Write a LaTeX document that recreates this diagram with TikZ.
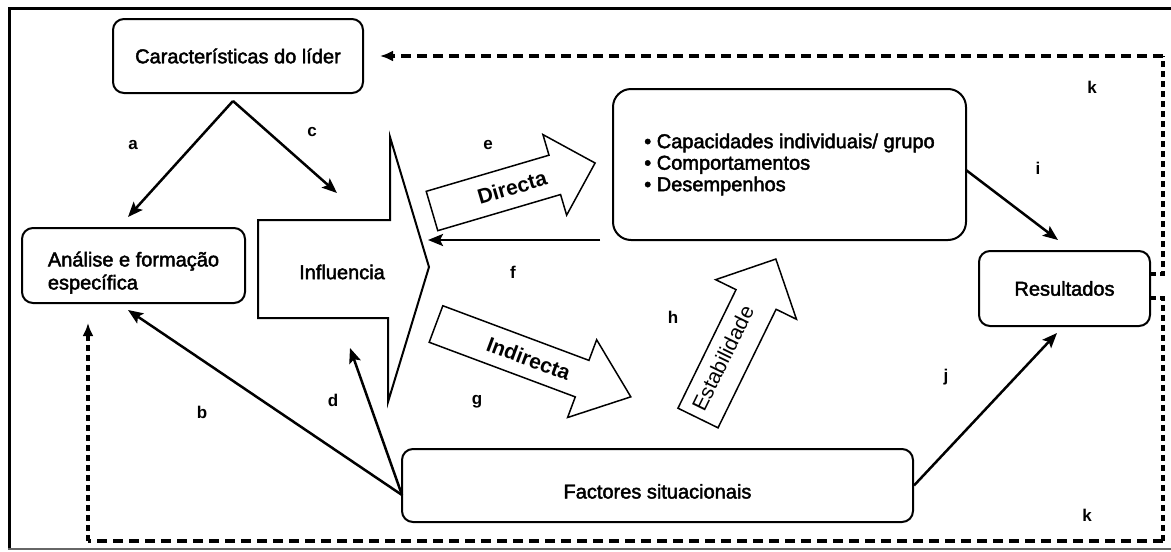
\documentclass[tikz,border=0pt]{standalone}
\usepackage{fontspec}
\setmainfont{Liberation Sans}
\newfontfamily\heavy[FakeBold=2.2]{Liberation Sans}
\usetikzlibrary{arrows.meta}
\begin{document}
\begin{tikzpicture}[x=1pt,y=-1pt,
  box/.style={draw,line width=2pt,rounded corners=11pt,inner sep=0pt,
    font=\heavy\fontsize{20}{23}\selectfont,align=left},
  lbl/.style={font=\fontsize{17}{20}\selectfont\bfseries},
  arr/.style={line width=2.5pt,-{Stealth[length=15pt,width=12pt,inset=3pt]}},
  fb/.style={line width=3.2pt,dash pattern=on 10pt off 6pt},
  fbv/.style={line width=3.2pt,dash pattern=on 6pt off 4pt},
  fbtip/.style={-{Latex[length=13pt,width=11pt]}},
  blockarrow/.style={draw,line width=1.5pt,fill=white,line join=miter},
  bigtext/.style={font=\fontsize{21}{24}\selectfont\bfseries},
]
\useasboundingbox (0,0) rectangle (1171,552);

% outer frame
\draw[line width=3.5pt] (9.5,549) -- (9.5,8.5) -- (1171,8.5);
\draw[line width=2pt,black!60] (8,548.5) -- (1171,548.5);

% boxes
\node[box,minimum width=250,minimum height=74] (lider) at (238,56) {Características do líder};
\node[box,minimum width=223,minimum height=75] (analise) at (133.5,265.5)
      {\rule{0pt}{29pt}Análise e formação\\específica};
\node[box,rounded corners=18pt,minimum width=353,minimum height=151,
      font=\heavy\fontsize{20}{21.5}\selectfont] (capac) at (789.5,164.5)
      {• Capacidades individuais/ grupo\\• Comportamentos\\• Desempenhos};
\node[box,minimum width=171,minimum height=75] (result) at (1064.5,288.5) {Resultados};
\node[box,minimum width=511,minimum height=73,text height=26pt,text depth=0pt]
      (factores) at (657.5,485.5) {Factores situacionais};

% influence block
\draw[line width=2pt,line join=miter] (258,220) -- (390,220) -- (390,137) -- (429,267)
  -- (388,402) -- (388,318) -- (258,318) -- cycle;
\node[font=\heavy\fontsize{20}{23}\selectfont] (influ) at (342,272) {Influencia};

% direct influence
\begin{scope}[shift={(432,211)},rotate=16.4]
  \draw[blockarrow] (0,-20.5) -- (128,-20.5) -- (128,-42) -- (170,0) -- (128,42)
    -- (128,20.5) -- (0,20.5) -- cycle;
  \node[bigtext,rotate=16.4] (directa) at (83.5,0) {Directa};
\end{scope}

% indirect influence
\begin{scope}[shift={(436,324)},rotate=-20.5]
  \draw[blockarrow] (0,-19.5) -- (156,-19.5) -- (156,-41.5) -- (208,0) -- (156,41.5)
    -- (156,19.5) -- (0,19.5) -- cycle;
  \node[bigtext,rotate=-20.5] (indirecta) at (99,0) {Indirecta};
\end{scope}

% stability
\begin{scope}[shift={(698,418)},rotate=63.9]
  \draw[blockarrow] (0,-22.3) -- (132,-22.3) -- (132,-45) -- (177,0) -- (132,45)
    -- (132,22.3) -- (0,22.3) -- cycle;
  \node[font=\fontsize{21}{24}\selectfont,rotate=63.9] (estab) at (64.5,-4) {Estabilidade};
\end{scope}

% connector end points
\coordinate (apex) at (233,101);
\coordinate (aEnd) at (128,217);
\coordinate (cEnd) at (337,193);
\coordinate (fsw) at (402,495);
\coordinate (bEnd) at (128,310);
\coordinate (dEnd) at (350,348);
\coordinate (fStart) at (600,240);
\coordinate (fEnd) at (428,240);
\coordinate (iStart) at (966,170);
\coordinate (iEnd) at (1058,240);
\coordinate (jEnd) at (1057,333);
\coordinate (rk1) at (1150,274);
\coordinate (rk2) at (1150,298);
\coordinate (kc1) at (1163,274);
\coordinate (kc2) at (1163,56);
\coordinate (kTop) at (380,56);
\coordinate (kc3) at (1163,298);
\coordinate (kc4) at (1163,541);
\coordinate (kc5) at (88,541);
\coordinate (kLeft) at (88,323);

% solid connectors
\draw[arr] (apex) -- (aEnd);
\draw[arr] (apex) -- (cEnd);
\draw[arr] (fsw) -- (bEnd);
\draw[arr] (fsw) -- (dEnd);
\draw[arr] (fStart) -- (fEnd);
\draw[arr] (iStart) -- (iEnd);
\draw[arr] (factores.east) -- (jEnd);

% feedback loops
\draw[fbv] (rk1) -- (kc1) -- (kc2);
\draw[fb,fbtip] (kc2) -- (kTop);
\draw[fbv] (rk2) -- (kc3) -- (kc4);
\draw[fb] (kc4) -- (kc5);
\draw[fbv,fbtip] (kc5) -- (kLeft);

% letters
\node[lbl] (la) at (133,145) {a};
\node[lbl] (lc) at (312,132) {c};
\node[lbl] (lb) at (202,412) {b};
\node[lbl] (ld) at (333,400) {d};
\node[lbl] (le) at (488,145) {e};
\node[lbl] (lf) at (513,272) {f};
\node[lbl] (lg) at (477,402) {g};
\node[lbl] (lh) at (673,317) {h};
\node[lbl] (li) at (1038,168) {i};
\node[lbl] (lj) at (946,377) {j};
\node[lbl] (lk1) at (1092,87) {k};
\node[lbl] (lk2) at (1087,515) {k};
\end{tikzpicture}
\end{document}
